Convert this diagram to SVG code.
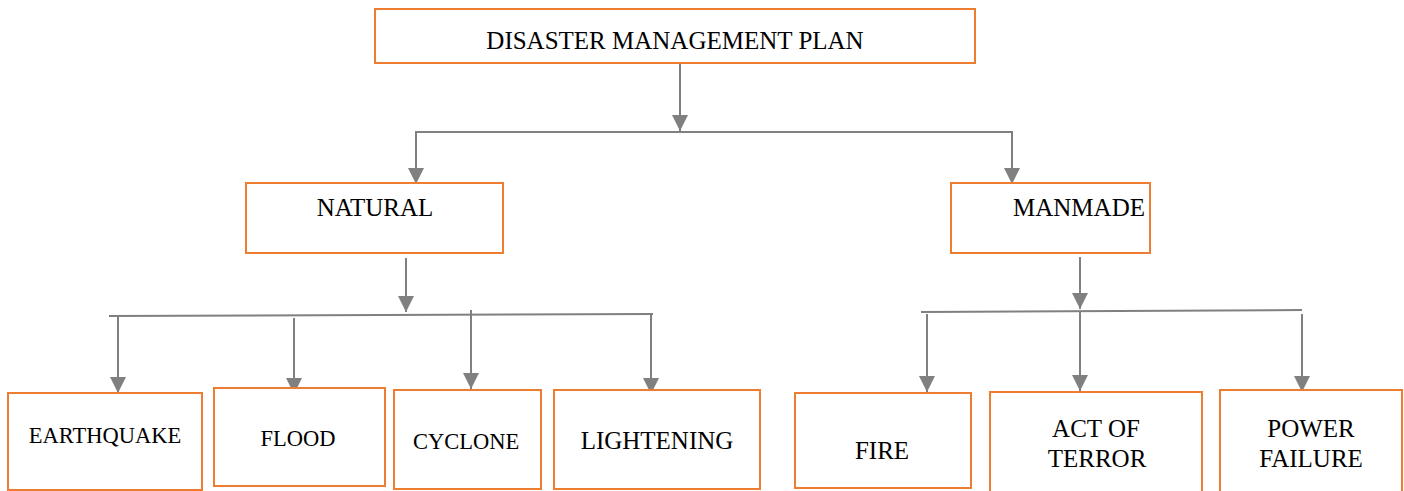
<svg xmlns="http://www.w3.org/2000/svg" width="1404" height="491" viewBox="0 0 1404 491">
<style>
.box{fill:#fff;stroke:#ED7D31;stroke-width:2}
text{font-family:'Liberation Serif','Times New Roman','DejaVu Serif',serif;font-size:25px;fill:#000;text-anchor:middle}
.s{font-size:22.5px}
.c{stroke:#808080;stroke-width:2;fill:none}
.a{marker-end:url(#arr)}
</style>
<defs>
<marker id="arr" markerUnits="strokeWidth" markerWidth="8" markerHeight="8" refX="8" refY="4" orient="auto">
<path d="M0,0 L8,4 L0,8 z" fill="#808080"/>
</marker>
</defs>
<rect width="1404" height="491" fill="#fff"/>
<g id="connectors">
<line class="c a" x1="680" y1="63" x2="680" y2="131"/>
<line class="c" x1="416" y1="132" x2="1012" y2="132"/>
<line class="c a" x1="416" y1="131" x2="416" y2="184"/>
<line class="c a" x1="1012" y1="131" x2="1012" y2="184"/>
<line class="c a" x1="406" y1="258" x2="406" y2="312"/>
<line class="c" x1="109" y1="316" x2="653" y2="314"/>
<line class="c a" x1="118" y1="316" x2="118" y2="393"/>
<line class="c a" x1="294" y1="318" x2="294" y2="394"/>
<line class="c a" x1="471" y1="310" x2="471" y2="389"/>
<line class="c a" x1="651" y1="314" x2="651" y2="394"/>
<line class="c a" x1="1080" y1="257" x2="1080" y2="309"/>
<line class="c" x1="921" y1="312" x2="1302" y2="310"/>
<line class="c a" x1="927" y1="314" x2="927" y2="392"/>
<line class="c a" x1="1080" y1="311" x2="1080" y2="391"/>
<line class="c a" x1="1302" y1="314" x2="1302" y2="392"/>
</g>
<g id="node-plan"><rect class="box" x="375" y="9" width="600" height="54"/><text x="675" y="49">DISASTER MANAGEMENT PLAN</text></g>
<g id="node-natural"><rect class="box" x="246" y="183" width="257" height="70"/><text x="375" y="216">NATURAL</text></g>
<g id="node-manmade"><rect class="box" x="951" y="183" width="199" height="70"/><text x="1079" y="216">MANMADE</text></g>
<g id="node-earthquake"><rect class="box" x="8" y="393" width="194" height="97"/><text class="s" x="105" y="443">EARTHQUAKE</text></g>
<g id="node-flood"><rect class="box" x="214" y="388" width="171" height="98"/><text class="s" x="298" y="446">FLOOD</text></g>
<g id="node-cyclone"><rect class="box" x="394" y="390" width="147" height="99"/><text class="s" x="466" y="449">CYCLONE</text></g>
<g id="node-lightening"><rect class="box" x="554" y="390" width="206" height="99"/><text x="657" y="449">LIGHTENING</text></g>
<g id="node-fire"><rect class="box" x="795" y="393" width="176" height="95"/><text x="882" y="459">FIRE</text></g>
<g id="node-terror"><rect class="box" x="990" y="392" width="212" height="110"/><text x="1096" y="437">ACT OF</text><text x="1097" y="467">TERROR</text></g>
<g id="node-power"><rect class="box" x="1220" y="390" width="182" height="112"/><text x="1311" y="437">POWER</text><text x="1311" y="467">FAILURE</text></g>
</svg>
